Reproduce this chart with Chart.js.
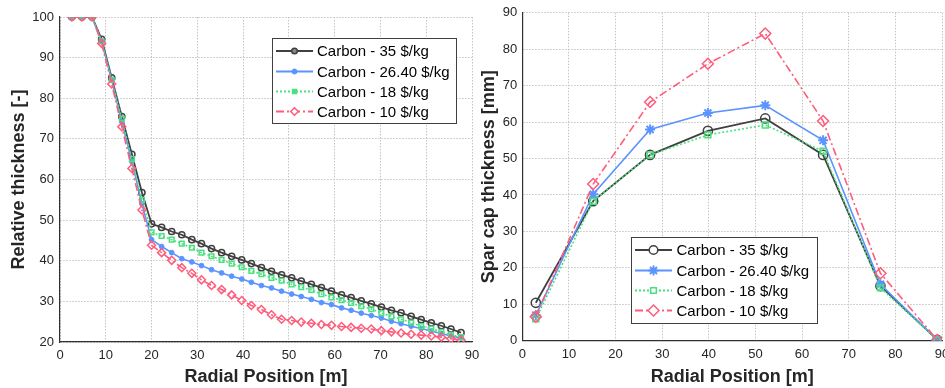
<!DOCTYPE html>
<html>
<head>
<meta charset="utf-8">
<script src="https://cdn.jsdelivr.net/npm/chart.js@4.4.0/dist/chart.umd.min.js"></script>
<style>
  html, body { margin: 0; padding: 0; background: #fff; overflow: hidden; width: 945px; height: 388px; }
  #wrapL { position: absolute; left: 0; top: 0; width: 492px; height: 388px; }
  #wrapR { position: absolute; left: 470px; top: 0; width: 492px; height: 388px; }
</style>
</head>
<body>
<div id="wrapL"><canvas id="cL" width="492" height="388"></canvas></div>
<div id="wrapR"><canvas id="cR" width="492" height="388"></canvas></div>
<script>
// ---------- DATA ----------
const seriesNames = ['Carbon - 35 $/kg', 'Carbon - 26.40 $/kg', 'Carbon - 18 $/kg', 'Carbon - 10 $/kg'];

// Left: relative thickness vs radial position
const radialLeft = [2.6, 4.8, 7.0, 9.1, 11.3, 13.5, 15.7, 17.9, 20.0, 22.2, 24.4, 26.6, 28.8, 30.9, 33.1, 35.3, 37.5, 39.7, 41.8, 44.0,
  46.2, 48.4, 50.6, 52.7, 54.9, 57.1, 59.3, 61.5, 63.6, 65.8, 68.0, 70.2, 72.4, 74.5, 76.7, 78.9, 81.1, 83.3, 85.4, 87.6];
const relThick35 = [100, 100, 100, 94.5, 85.0, 75.5, 66.2, 56.8, 49.1, 48.2, 47.2, 46.4, 45.2, 44.2, 43.0, 42.0, 41.1, 40.2, 39.3, 38.3,
  37.4, 36.5, 35.8, 35.0, 34.2, 33.4, 32.5, 31.6, 30.9, 30.1, 29.4, 28.6, 27.8, 27.2, 26.3, 25.5, 24.7, 24.0, 23.2, 22.3];
const relThick26 = [100, 100, 100, 94.0, 84.5, 74.2, 64.5, 54.0, 45.2, 43.5, 42.0, 40.5, 39.7, 38.8, 37.8, 37.0, 36.2, 35.5, 34.7, 33.9,
  33.3, 32.5, 31.8, 31.2, 30.5, 29.7, 29.2, 28.4, 27.8, 27.1, 26.5, 25.9, 25.1, 24.5, 23.9, 23.3, 22.7, 22.1, 21.5, 21.0];
const relThick18 = [100, 100, 100, 94.0, 84.5, 75.0, 65.0, 55.0, 47.0, 46.1, 45.2, 44.2, 43.2, 42.0, 41.1, 40.2, 39.3, 38.4, 37.5, 36.7,
  35.8, 35.1, 34.2, 33.5, 32.8, 31.8, 31.0, 30.3, 29.6, 28.8, 28.1, 27.1, 26.3, 25.6, 24.8, 23.9, 23.3, 22.5, 21.8, 21.2];
const relThick10 = [100, 100, 100, 93.5, 83.5, 73.0, 62.7, 52.5, 43.8, 42.0, 40.1, 38.3, 36.9, 35.3, 33.9, 32.9, 31.6, 30.2, 29.0, 28.0,
  26.7, 25.6, 25.3, 24.9, 24.6, 24.3, 24.1, 23.8, 23.6, 23.4, 23.2, 22.8, 22.5, 22.2, 21.9, 21.7, 21.5, 21.2, 20.8, 20.5];

// Right: spar cap thickness vs radial position
const radialRight = [2.9, 15.2, 27.4, 39.8, 52.1, 64.5, 76.8, 89.0];
const spar35 = [10.4, 38.3, 51.0, 57.6, 61.0, 51.0, 15.0, 0.2];
const spar26 = [7.0, 40.2, 58.0, 62.5, 64.6, 55.0, 15.5, 0.2];
const spar18 = [6.0, 38.3, 51.0, 56.5, 59.2, 52.0, 14.5, 0.2];
const spar10 = [6.6, 43.0, 65.5, 76.0, 84.3, 60.3, 18.5, 0.2];

// ---------- STYLES ----------
const COL = ['#404040', '#5b94ff', '#4be07f', '#ff5c7a'];
const DASH = [[], [], [2, 2], [8, 3, 2, 3]];
const FONT = "'Liberation Sans', Arial, Helvetica, sans-serif";
const TXT = '#262626';
const NONE = 'rgba(0,0,0,0)';

function pts(xs, ys) { return xs.map((x, i) => ({ x: x, y: ys[i] })); }

const markLeft = [
  { pointStyle: 'circle', radius: 3.1, bg: NONE, bw: 1.5 },
  { pointStyle: 'circle', radius: 2.4, bg: COL[1], bw: 1 },
  { pointStyle: 'rect', radius: 3.3, bg: NONE, bw: 1.5 },
  { pointStyle: 'rectRot', radius: 4.0, bg: NONE, bw: 1.5 }
];
const markRight = [
  { pointStyle: 'circle', radius: 4.6, bg: NONE, bw: 1.5 },
  { pointStyle: 'star', radius: 5, bg: COL[1], bw: 2 },
  { pointStyle: 'rect', radius: 4.2, bg: NONE, bw: 1.5 },
  { pointStyle: 'rectRot', radius: 5.5, bg: NONE, bw: 1.5 }
];

function makeDatasets(xs, ysList, marks) {
  return ysList.map((ys, i) => ({
    label: seriesNames[i],
    data: pts(xs, ys),
    showLine: true,
    borderColor: COL[i],
    backgroundColor: COL[i],
    borderWidth: i === 0 ? 1.8 : 1.6,
    borderDash: DASH[i],
    pointStyle: marks[i].pointStyle,
    pointRadius: marks[i].radius,
    pointBorderWidth: marks[i].bw,
    pointBorderColor: COL[i],
    pointBackgroundColor: marks[i].bg,
    tension: 0,
    order: 4 - i
  }));
}

// floating legend plugin
const boxLegend = {
  id: 'boxLegend',
  afterDraw(chart, args, o) {
    const ctx = chart.ctx;
    ctx.save();
    ctx.fillStyle = '#ffffff';
    ctx.fillRect(o.x, o.y, o.w, o.h);
    ctx.strokeStyle = '#404040';
    ctx.lineWidth = 1;
    ctx.strokeRect(o.x + 0.5, o.y + 0.5, o.w, o.h);
    chart.data.datasets.forEach((ds, i) => {
      const y = o.rowY[i];
      ctx.save();
      ctx.strokeStyle = COL[i];
      ctx.lineWidth = 1.8;
      ctx.setLineDash(DASH[i]);
      ctx.beginPath();
      ctx.moveTo(o.lx0, y); ctx.lineTo(o.lx1, y);
      ctx.stroke();
      ctx.restore();
      const m = o.marks[i];
      ctx.save();
      ctx.strokeStyle = COL[i];
      ctx.fillStyle = m.bg === NONE ? '#ffffff' : m.bg;
      ctx.lineWidth = m.bw;
      Chart.helpers.drawPoint(ctx, { pointStyle: m.pointStyle, radius: m.radius, rotation: 0, borderWidth: m.bw }, (o.lx0 + o.lx1) / 2, y);
      ctx.restore();
      ctx.fillStyle = '#000000';
      ctx.font = o.font;
      ctx.textBaseline = 'middle';
      ctx.textAlign = 'left';
      ctx.fillText(ds.label, o.tx, y + 1);
    });
    ctx.restore();
  }
};

function axisCommon(min, max, step, titleText, titlePad) {
  return {
    type: 'linear', min: min, max: max,
    ticks: { stepSize: step, color: TXT, font: { family: FONT, size: 13 }, padding: 6 },
    grid: { color: '#c4c4c4', lineWidth: 1, drawTicks: false },
    border: { display: true, color: '#303030', width: 1.2, dash: [1.5, 1.5] },
    title: { display: true, text: titleText, color: TXT, font: { family: FONT, size: 18, weight: 'bold' }, padding: titlePad }
  };
}

// ---------- LEFT CHART ----------
const xL = axisCommon(0, 90, 10, 'Radial Position [m]', { top: 0, bottom: 0 });
xL.afterFit = s => { s.height = 46; };
const yL = axisCommon(20, 100, 10, 'Relative thickness [-]', { top: 8, bottom: 0 });
yL.afterFit = s => { s.width = 60; };

new Chart(document.getElementById('cL'), {
  type: 'scatter',
  data: { datasets: makeDatasets(radialLeft, [relThick35, relThick26, relThick18, relThick10], markLeft) },
  options: {
    responsive: false, animation: false, devicePixelRatio: 1,
    layout: { padding: { left: 0, right: 20, top: 17, bottom: 0 } },
    plugins: {
      legend: { display: false }, tooltip: { enabled: false },
      boxLegend: { x: 272, y: 38, w: 184, h: 85, rowY: [51, 71.5, 91.5, 111.5], lx0: 276, lx1: 313, tx: 317,
        font: "15px " + FONT,
        marks: [
          { pointStyle: 'circle', radius: 2.8, bg: '#888888', bw: 1.5 },
          { pointStyle: 'circle', radius: 2.5, bg: COL[1], bw: 1 },
          { pointStyle: 'rect', radius: 3, bg: COL[2], bw: 1.2 },
          { pointStyle: 'rectRot', radius: 3.8, bg: NONE, bw: 1.5 }
        ] }
    },
    scales: { x: xL, y: yL }
  },
  plugins: [boxLegend]
});

// ---------- RIGHT CHART ----------
const xR = axisCommon(0, 90, 10, 'Radial Position [m]', { top: 0, bottom: 0 });
xR.afterFit = s => { s.height = 47.3; };
const yR = axisCommon(0, 90, 10, 'Spar cap thickness [mm]', { top: 8, bottom: 0 });
yR.ticks.padding = 5;
yR.afterFit = s => { s.width = 52.3; };

new Chart(document.getElementById('cR'), {
  type: 'scatter',
  data: { datasets: makeDatasets(radialRight, [spar35, spar26, spar18, spar10], markRight) },
  options: {
    responsive: false, animation: false, devicePixelRatio: 1,
    layout: { padding: { left: 0, right: 20, top: 11.7, bottom: 0 } },
    plugins: {
      legend: { display: false }, tooltip: { enabled: false },
      boxLegend: { x: 161, y: 237, w: 186, h: 86, rowY: [250, 270.5, 290.5, 310.5], lx0: 165, lx1: 202, tx: 206.5,
        font: "15px " + FONT,
        marks: [
          { pointStyle: 'circle', radius: 4.3, bg: NONE, bw: 1.5 },
          { pointStyle: 'star', radius: 5, bg: COL[1], bw: 2 },
          { pointStyle: 'rect', radius: 4, bg: NONE, bw: 1.5 },
          { pointStyle: 'rectRot', radius: 5.5, bg: NONE, bw: 1.5 }
        ] }
    },
    scales: { x: xR, y: yR }
  },
  plugins: [boxLegend]
});
</script>
</body>
</html>
